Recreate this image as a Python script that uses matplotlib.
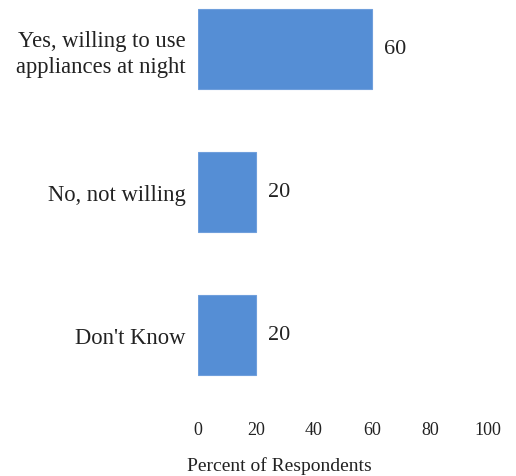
import matplotlib
matplotlib.use("Agg")
import matplotlib.pyplot as plt

categories = ["Yes, willing to use\nappliances at night", "No, not willing", "Don't Know"]
values = [60, 20, 20]
xticks = [0, 20, 40, 60, 80, 100]

plt.rcParams["font.family"] = ["Liberation Serif", "DejaVu Serif"]

fig = plt.figure(figsize=(5.16, 4.77), dpi=100)
W, H = 516, 477
# axes box in pixel terms: left 198, right 488, top 0, bottom 410
ax = fig.add_axes([198 / W, 1 - 410 / H, 290 / W, 410 / H])

ypos = list(range(len(categories)))
ax.barh(ypos, values, height=0.56, color="#558ED5", edgecolor="#6f9fdc", linewidth=0.8)

ax.set_xlim(0, 100)
ax.set_ylim((410 - 50) / 143, -50 / 143)
ax.set_yticks(ypos)
ax.set_yticklabels(categories, fontsize=16.3, linespacing=1.3, color="#222222")
ax.set_xticks(xticks)
ax.set_xticklabels([str(t) for t in xticks], fontsize=13, color="#222222")
ax.tick_params(axis="both", length=0)
ax.tick_params(axis="y", pad=9)
ax.tick_params(axis="x", pad=9)
for s in ax.spines.values():
    s.set_visible(False)

for y, v in zip(ypos, values):
    ax.text(v + 4, y, str(v), va="center", ha="left", fontsize=16, color="#222222")

fig.text(279 / W, 1 - 466 / H, "Percent of Respondents", fontsize=14,
         ha="center", va="center", color="#222222")

fig.savefig("out.png", dpi=100, facecolor="white")
